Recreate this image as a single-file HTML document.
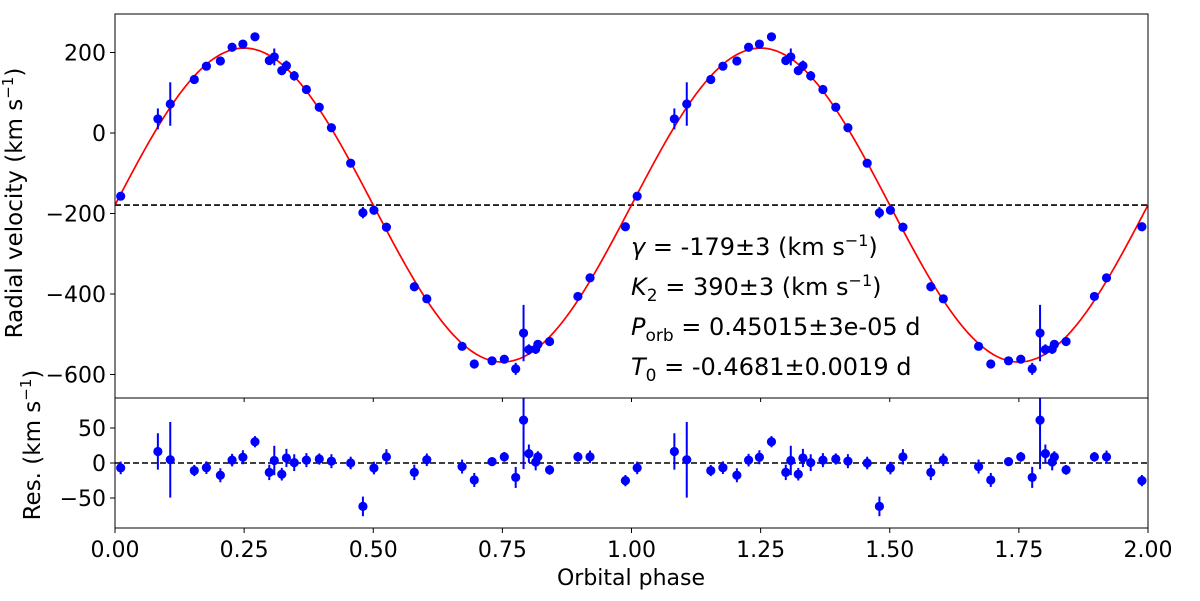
<!DOCTYPE html>
<html><head><meta charset="utf-8">
<style>
html,body{margin:0;padding:0;background:#fff;}
svg{display:block;font-family:"DejaVu Sans","Liberation Sans",sans-serif;}
</style></head>
<body>
<svg id="chart" width="1200" height="601" viewBox="0 0 1200 601" xmlns="http://www.w3.org/2000/svg"></svg>
<script>
const phases=[0.011,0.083,0.107,0.1535,0.177,0.204,0.2267,0.2476,0.271,0.2987,0.3084,0.3229,0.3319,0.347,0.3706,0.3955,0.419,0.4563,0.48,0.5013,0.5255,0.5795,0.6037,0.672,0.6956,0.730,0.7537,0.7758,0.791,0.8013,0.8145,0.8187,0.8414,0.8962,0.9197,0.9882];
const rvValues=[-157,35,72,133,166,179,213,221,239,180,189,155,167,142,108,64,13,-75,-198,-192,-234,-382,-412,-530,-574,-566,-562,-586,-497,-538,-537,-525,-518,-406,-360,-233];
const rvErrors=[9,26,54,8,9,10,9,10,8,11,21,9,13,12,10,8,10,9,14,9,11,11,9,10,10,6,7,15,70,13,12,8,7,7,9,8];
const residuals=[-7,16.5,4.6,-10.8,-6.7,-17.5,4.1,8.2,30.4,-13.4,3.6,-16,7.2,0.5,4.1,5.7,2.6,0,-62,-7.2,8.8,-13.4,4.6,-5.1,-24.2,2,8.8,-20.6,61.3,13.4,1.5,8.8,-9.8,8.8,8.8,-25.2];
const gamma=-179, K2=390;
const xTicks=[0,0.25,0.5,0.75,1,1.25,1.5,1.75,2];
const xTickLabels=["0.00","0.25","0.50","0.75","1.00","1.25","1.50","1.75","2.00"];
const yTicks=[200,0,-200,-400,-600];
const resTicks=[50,0,-50];

const NS="http://www.w3.org/2000/svg";
const svg=document.getElementById('chart');
const L=115,R=1148,T1=14,B1=398,T2=398,B2=528;
const X=p=>L+(p/2)*(R-L);
const Y=v=>133-v*0.4025;
const YR=v=>463-v*0.7;
function el(tag,attrs,parent){const e=document.createElementNS(NS,tag);for(const k in attrs)e.setAttribute(k,attrs[k]);(parent||svg).appendChild(e);return e;}

const defs=el('defs',{});
const c1=el('clipPath',{id:'c1'},defs);el('rect',{x:L,y:T1,width:R-L,height:B1-T1},c1);
const c2=el('clipPath',{id:'c2'},defs);el('rect',{x:L,y:T2,width:R-L,height:B2-T2},c2);

const g1=el('g',{'clip-path':'url(#c1)'});


const g2=el('g',{'clip-path':'url(#c2)'});



const gl=el('line',{x1:L,x2:R,y1:Y(gamma),y2:Y(gamma),stroke:'#000','stroke-width':1.6,'stroke-dasharray':'6,3'},g1);


const zl=el('line',{x1:L,x2:R,y1:YR(0),y2:YR(0),stroke:'#000','stroke-width':1.6,'stroke-dasharray':'6,3'},g2);



let d='';
for(let i=0;i<=400;i++){const p=i/200;const v=gamma+K2*Math.sin(2*Math.PI*p);d+=(i?'L':'M')+X(p).toFixed(2)+','+Y(v).toFixed(2);}
const curve=el('path',{d:d,fill:'none',stroke:'#ff0000','stroke-width':1.7},g1);



for(let rep=0;rep<2;rep++){
  for(let i=0;i<phases.length;i++){
    const p=phases[i]+rep;
    const x=X(p);
    const e1=el('line',{x1:x,x2:x,y1:Y(rvValues[i]+rvErrors[i]),y2:Y(rvValues[i]-rvErrors[i]),stroke:'#0000ff','stroke-width':2},g1);
    
    
    const p1=el('circle',{cx:x,cy:Y(rvValues[i]),r:4.6,fill:'#0000ff'},g1);
    
    
    const e2=el('line',{x1:x,x2:x,y1:YR(residuals[i]+rvErrors[i]),y2:YR(residuals[i]-rvErrors[i]),stroke:'#0000ff','stroke-width':2},g2);
    
    
    const p2=el('circle',{cx:x,cy:YR(residuals[i]),r:4.6,fill:'#0000ff'},g2);
    
    
  }
}

const f1=el('rect',{x:L,y:T1,width:R-L,height:B1-T1,fill:'none',stroke:'#000','stroke-width':1});


const f2=el('rect',{x:L,y:T2,width:R-L,height:B2-T2,fill:'none',stroke:'#000','stroke-width':1});



function fmt(v){return v<0?'\u2212'+Math.abs(v):''+v;}
xTicks.forEach((t,i)=>{
  const x=X(t);
  el('line',{x1:x,x2:x,y1:B2,y2:B2+5,stroke:'#000','stroke-width':1});
  el('line',{x1:x,x2:x,y1:B1,y2:B1+4,stroke:'#000','stroke-width':1});
  const tx=el('text',{x:x,y:B2+29,'font-size':22,'text-anchor':'middle',fill:'#000'});
  tx.textContent=xTickLabels[i];
  
  
});
yTicks.forEach(t=>{
  const y=Y(t);
  el('line',{x1:L-5,x2:L,y1:y,y2:y,stroke:'#000','stroke-width':1});
  const tx=el('text',{x:L-9,y:y+8,'font-size':22,'text-anchor':'end',fill:'#000'});
  tx.textContent=fmt(t);
  
  
});
resTicks.forEach(t=>{
  const y=YR(t);
  el('line',{x1:L-5,x2:L,y1:y,y2:y,stroke:'#000','stroke-width':1});
  const tx=el('text',{x:L-9,y:y+8,'font-size':22,'text-anchor':'end',fill:'#000'});
  tx.textContent=fmt(t);
  
  
});
</script>
<svg style="position:absolute;left:0;top:0" width="1200" height="601">
  <g font-family="DejaVu Sans, Liberation Sans, sans-serif" fill="#000">
    <text x="631" y="585" font-size="22" text-anchor="middle">Orbital phase</text>
    <text transform="translate(22,203) rotate(-90)" font-size="23" text-anchor="middle">Radial velocity  (km s<tspan font-size="15" dy="-9">−1</tspan><tspan dy="9">)</tspan></text>
    <text transform="translate(40,445) rotate(-90)" font-size="23" text-anchor="middle">Res. (km s<tspan font-size="15" dy="-9">−1</tspan><tspan dy="9">)</tspan></text>
    <g font-size="24">
      <text x="631" y="255"><tspan font-style="italic">γ</tspan> = -179±3 (km s<tspan font-size="16" dy="-9">−1</tspan><tspan dy="9">)</tspan></text>
      <text x="631" y="295"><tspan font-style="italic">K</tspan><tspan font-size="17" dy="6">2</tspan><tspan dy="-6"> = 390±3 (km s</tspan><tspan font-size="16" dy="-9">−1</tspan><tspan dy="9">)</tspan></text>
      <text x="631" y="335"><tspan font-style="italic">P</tspan><tspan font-size="17" dy="6">orb</tspan><tspan dy="-6"> = 0.45015±3e-05 d</tspan></text>
      <text x="631" y="375"><tspan font-style="italic">T</tspan><tspan font-size="17" dy="6">0</tspan><tspan dy="-6"> = -0.4681±0.0019 d</tspan></text>
    </g>
  </g>
</svg>
</body></html>
